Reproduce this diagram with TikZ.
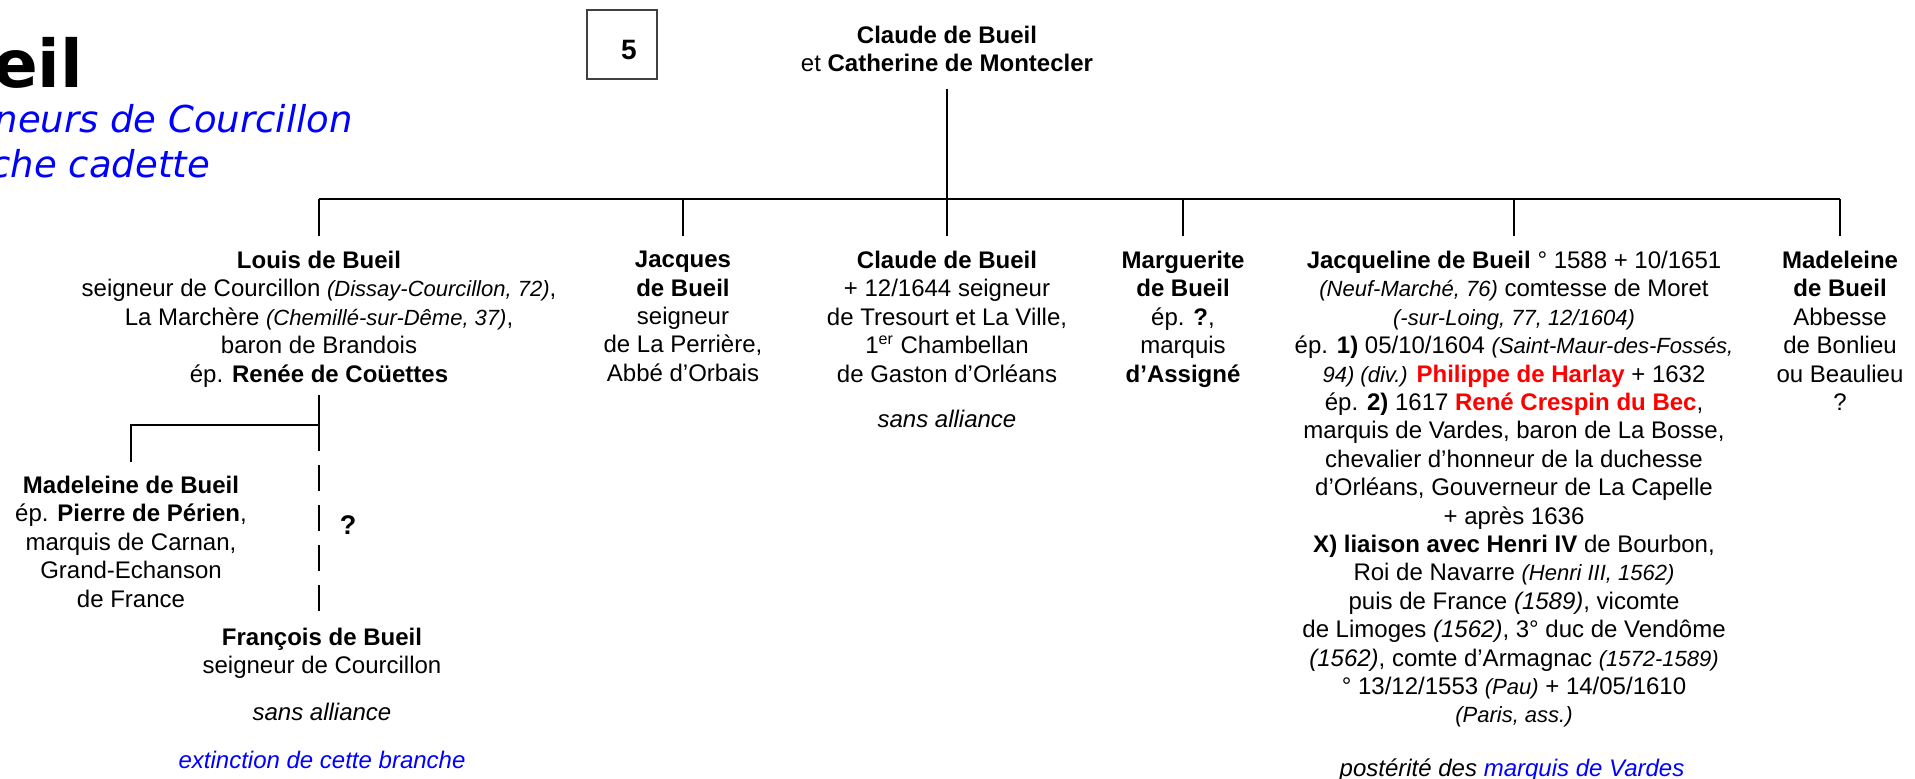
\documentclass[tikz,border=0pt]{standalone}
\usepackage{fontspec}
\setmainfont{Liberation Sans}
\newfontfamily\titlefont{DejaVu Sans}

\newcommand\pl[1]{{\fontsize{11}{14.2}\selectfont\itshape #1}}
\newcommand\nm[1]{\textcolor{red}{\textbf{#1}}}

\begin{document}
\begin{tikzpicture}[x=0.5pt,y=-0.5pt,line width=1.1pt,
  font=\fontsize{12}{14.2}\selectfont,
  every node/.style={inner sep=0pt},
  pers/.style={align=center,anchor=north}]
\useasboundingbox (0,0) rectangle (1915,778);

 % titre
 \node[anchor=base west,font=\titlefont\bfseries\fontsize{33}{40}\selectfont] (titre) at (-8,87) {eil};
 \node[anchor=base east,text=blue,font=\titlefont\itshape\fontsize{18.5}{22}\selectfont] (sousa) at (354,132) {neurs de Courcillon};
 \node[anchor=base east,text=blue,font=\titlefont\itshape\fontsize{18.5}{22}\selectfont] (sousb) at (211,177) {che cadette};

 \node[draw=black!75,line width=0.8pt,minimum width=35pt,minimum height=34.5pt] (num) at (622,44.5) {};
 \node[font=\bfseries\fontsize{14}{16}\selectfont] (cinq) at (629,50) {5};

 % parents
 \node[pers] (cc) at (947,25) {\textbf{Claude de Bueil}\\et \textbf{Catherine de Montecler}};
 \coordinate (bar) at (947,199);

 % enfants
 \node[pers] (louis) at (319,250) {\textbf{Louis de Bueil}\\
   seigneur de Courcillon \pl{(Dissay-Courcillon, 72)},\\
   La Marchère \pl{(Chemillé-sur-Dême, 37)},\\
   baron de Brandois\\
   ép. \textbf{Renée de Coüettes}};
 \node[pers] (jacques) at (683,250) {\textbf{Jacques}\\\textbf{de Bueil}\\seigneur\\de La Perrière,\\Abbé d’Orbais};
 \node[pers] (claude) at (947,250) {\textbf{Claude de Bueil}\\
   + 12/1644 seigneur\\
   de Tresourt et La Ville,\\
   1\textsuperscript{er} Chambellan\\
   de Gaston d’Orléans};
 \node[anchor=base] (claudesa) at (947,427) {\textit{sans alliance}};
 \node[pers] (marg) at (1183,250) {\textbf{Marguerite}\\\textbf{de Bueil}\\ép. \textbf{?},\\marquis\\\textbf{d’Assigné}};
 \node[pers] (jacq) at (1514,250) {\textbf{Jacqueline de Bueil} ° 1588 + 10/1651\\
   \pl{(Neuf-Marché, 76)} comtesse de Moret\\
   \pl{(-sur-Loing, 77, 12/1604)}\\
   ép. \textbf{1)} 05/10/1604 \pl{(Saint-Maur-des-Fossés,}\\
   \pl{94) (div.)} \nm{Philippe de Harlay} + 1632\\
   ép. \textbf{2)} 1617 \nm{René Crespin du Bec},\\
   marquis de Vardes, baron de La Bosse,\\
   chevalier d’honneur de la duchesse\\
   d’Orléans, Gouverneur de La Capelle\\
   + après 1636\\
   \textbf{X) liaison avec Henri IV} de Bourbon,\\
   Roi de Navarre \pl{(Henri III, 1562)}\\
   puis de France \textit{(1589)}, vicomte\\
   de Limoges \textit{(1562)}, 3° duc de Vendôme\\
   \textit{(1562)}, comte d’Armagnac \pl{(1572-1589)}\\
   ° 13/12/1553 \pl{(Pau)} + 14/05/1610\\
   \pl{(Paris, ass.)}};
 \node[anchor=base] (post) at (1512,776) {\textit{postérité des \textcolor{blue}{marquis de Vardes}}};
 \node[pers] (madr) at (1840,250) {\textbf{Madeleine}\\\textbf{de Bueil}\\Abbesse\\de Bonlieu\\ou Beaulieu\\?};

 % petits-enfants
 \coordinate (sub) at (319,425);
 \node[pers] (madl) at (131,475) {\textbf{Madeleine de Bueil}\\
   ép. \textbf{Pierre de Périen},\\
   marquis de Carnan,\\
   Grand-Echanson\\
   de France};
 \node[pers] (franc) at (322,627) {\textbf{François de Bueil}\\seigneur de Courcillon};
 \node[anchor=base] (francsa) at (322,720) {\textit{sans alliance}};
 \node[anchor=base,text=blue] (fin) at (322,768) {\textit{extinction de cette branche}};
 \node[font=\bfseries\fontsize{13.5}{16}\selectfont] (qm) at (348,525) {?};

 % traits
 \draw ([yshift=-8pt]cc.south) -- (bar);
 \draw (louis.north |- bar) -- (madr.north |- bar);
 \foreach \n in {louis,jacques,claude,marg,jacq,madr}
   \draw (\n.north |- bar) -- ([yshift=7pt]\n.north);
 \draw ([yshift=-3.5pt]louis.south) -- (louis.south |- sub) -| ([yshift=6.5pt]madl.north);
 \draw[dash pattern=on 13pt off 7pt] (louis.south |- sub) -- ([yshift=7pt]franc.north -| sub);
\end{tikzpicture}
\end{document}
